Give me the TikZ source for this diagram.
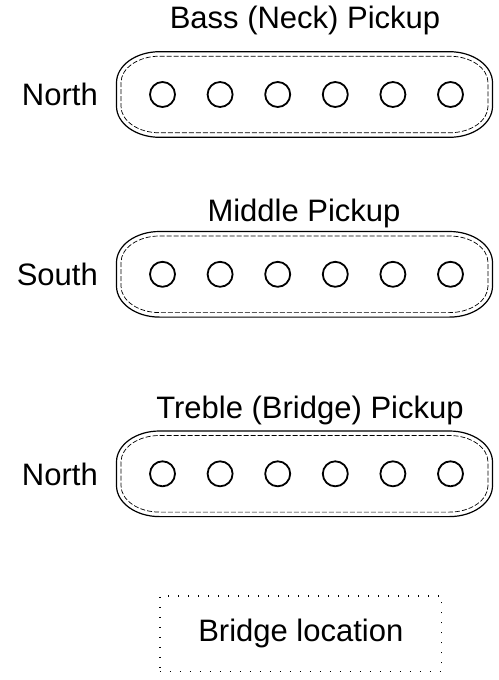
\documentclass[tikz,border=0pt]{standalone}
\usepackage{fontspec}
\setmainfont{Liberation Sans}
\newcommand\capsule[7]{%
\draw[#7] ({#1-#3+#5},{#2-#4}) -- ({#1+#3-#5},{#2-#4})
 .. controls ({#1+#3-#5*0.448},{#2-#4}) and ({#1+#3},{#2-#4+#6*0.448}) .. ({#1+#3},{#2-#4+#6})
 -- ({#1+#3},{#2+#4-#6})
 .. controls ({#1+#3},{#2+#4-#6*0.448}) and ({#1+#3-#5*0.448},{#2+#4}) .. ({#1+#3-#5},{#2+#4})
 -- ({#1-#3+#5},{#2+#4})
 .. controls ({#1-#3+#5*0.448},{#2+#4}) and ({#1-#3},{#2+#4-#6*0.448}) .. ({#1-#3},{#2+#4-#6})
 -- ({#1-#3},{#2-#4+#6})
 .. controls ({#1-#3},{#2-#4+#6*0.448}) and ({#1-#3+#5*0.448},{#2-#4}) .. cycle;}
\newcommand\pickupbody[3]{% cx cy name
\capsule{#1}{#2}{188}{42.8}{43}{31}{outerline}
\capsule{#1}{#2}{183.5}{38.3}{38.5}{26.5}{innerline}
\foreach \i in {0,...,5}{\node[pole] (#3\i) at ({162.5+57.6*\i},#2) {};}}
\tikzset{
  outerline/.style={draw=black, line width=1.2pt},
  innerline/.style={draw=black, line width=0.7pt, dash pattern=on 5pt off 2pt},
  pole/.style={circle, draw=black, line width=1.8pt, minimum size=25pt, inner sep=0pt},
  lbl/.style={font=\fontsize{31}{37}\selectfont, inner sep=0pt},
  bridgebox/.style={draw=black, line width=1.4pt, dash pattern=on 1.4pt off 8.6pt,
    minimum width=281.7pt, minimum height=75.7pt, font=\fontsize{31}{37}\selectfont}
}
\begin{document}
\begin{tikzpicture}[x=1pt,y=-1pt]
\useasboundingbox[fill=white] (0,0) rectangle (498,680);
% Bass (neck) pickup
\node[lbl, anchor=base] (t1) at (305,28.3) {Bass (Neck) Pickup};
\pickupbody{304.5}{94.5}{a}
\node[lbl, anchor=base east] (n1) at (98,105) {North};
% Middle pickup
\node[lbl, anchor=base] (t2) at (304,221) {Middle Pickup};
\pickupbody{304.5}{274.3}{b}
\node[lbl, anchor=base east] (n2) at (98,285.3) {South};
% Treble (bridge) pickup
\node[lbl, anchor=base] (t3) at (310,418) {Treble (Bridge) Pickup};
\pickupbody{304.5}{473.8}{c}
\node[lbl, anchor=base east] (n3) at (98,485) {North};
% Bridge
\node[bridgebox] (br) at (300.8,633.8) {Bridge location};
\end{tikzpicture}
\end{document}
